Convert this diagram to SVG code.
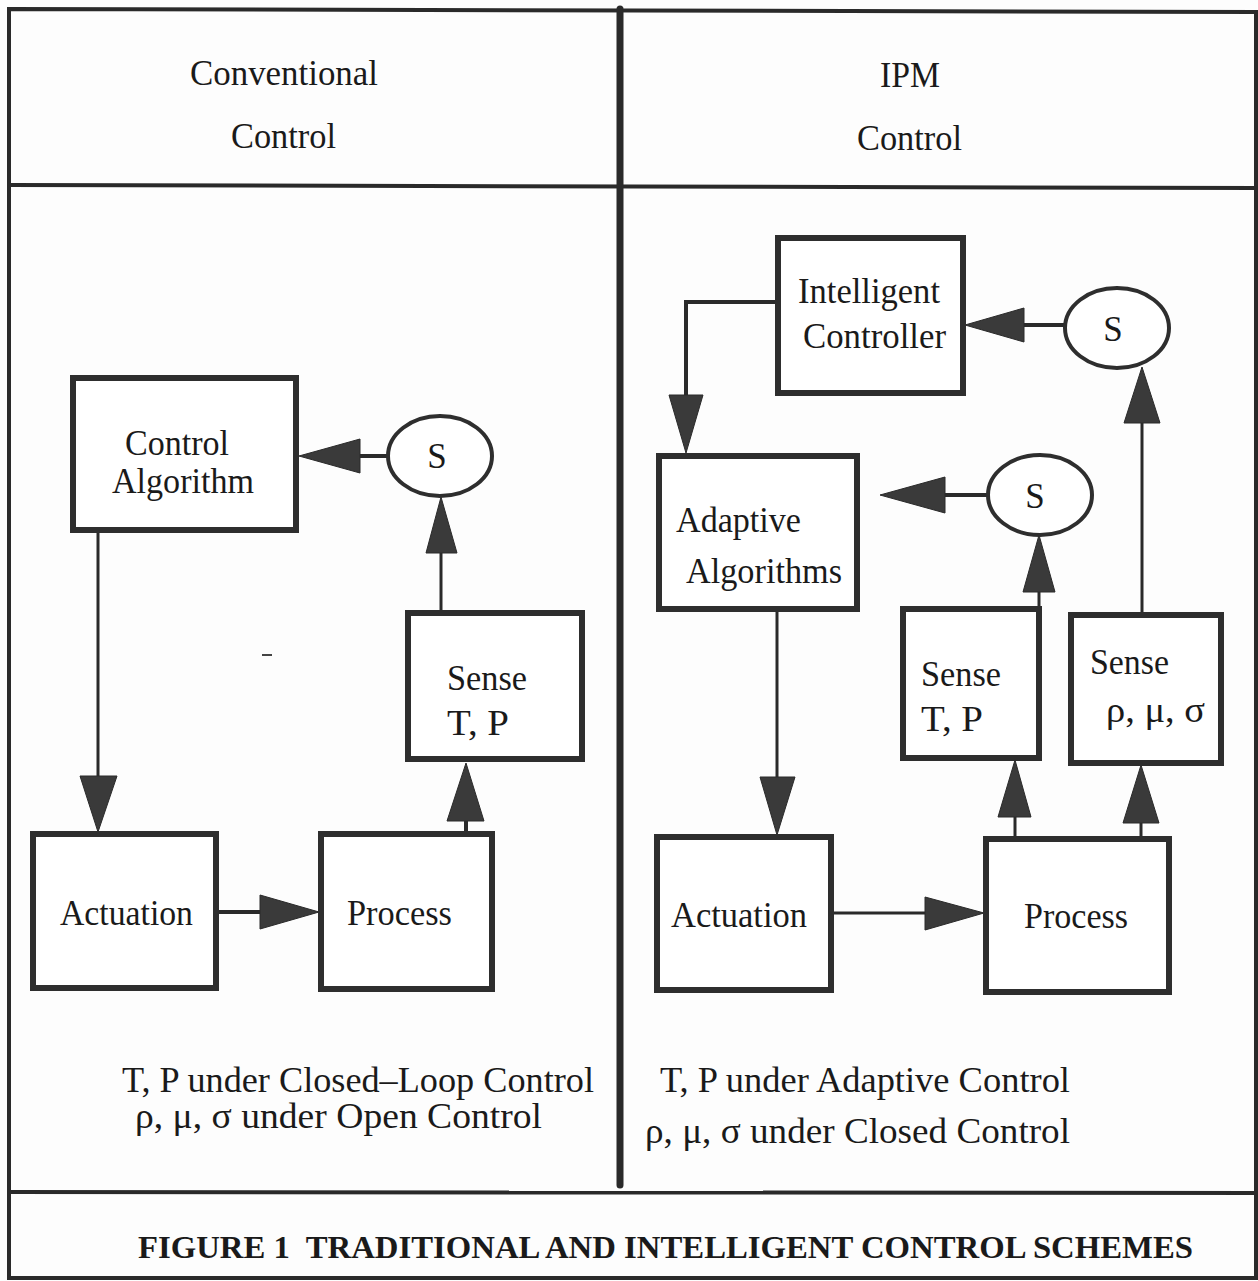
<svg xmlns="http://www.w3.org/2000/svg" width="1258" height="1281" viewBox="0 0 1258 1281">
<style>
.frame{fill:none;stroke:#2a2a2a;stroke-width:4}
.box{fill:#fff;stroke:#2e2e2e;stroke-width:6}
.ell{fill:#fff;stroke:#2e2e2e;stroke-width:4}
.ln{fill:none;stroke:#2a2a2a;stroke-width:3}
.lnt{fill:none;stroke:#2a2a2a;stroke-width:4}
.ah{fill:#3a3a3a;stroke:#2a2a2a;stroke-width:1}
text{font-family:"Liberation Serif","Times New Roman",serif;font-size:35px;fill:#1a1a1a}
.cap{font-weight:bold;font-size:31px}
</style>
<rect x="0" y="0" width="1258" height="1281" fill="#fdfdfd"/>
<g id="frame">
<path class="frame" d="M9,9 L1256,12 L1256,1278 L9,1278 Z"/>
<path class="frame" d="M9,185 L1256,188"/>
<path class="frame" d="M9,1192 L1256,1193"/>
<path d="M620,9 L620,1185" stroke="#2a2a2a" stroke-width="7" stroke-linecap="round" fill="none"/>
<line x1="262" y1="655" x2="272" y2="655" stroke="#444" stroke-width="2"/>
</g>
<g id="headers">
<text x="190" y="85" textLength="188" lengthAdjust="spacingAndGlyphs">Conventional</text>
<text x="231" y="148" textLength="105" lengthAdjust="spacingAndGlyphs">Control</text>
<text x="880" y="87" textLength="60" lengthAdjust="spacingAndGlyphs">IPM</text>
<text x="857" y="150" textLength="105" lengthAdjust="spacingAndGlyphs">Control</text>
</g>
<g id="connectors">
<line class="lnt" x1="360" y1="456" x2="388" y2="456"/>
<polygon class="ah" points="299,456 360,439 360,473"/>
<line class="ln" x1="441" y1="612" x2="441" y2="552"/>
<polygon class="ah" points="441,497 426,553 457,553"/>
<line class="ln" x1="98" y1="531" x2="98" y2="776"/>
<polygon class="ah" points="98,832 80,776 117,776"/>
<line class="lnt" x1="217" y1="912" x2="260" y2="912"/>
<polygon class="ah" points="319,912 260,895 260,929"/>
<line class="lnt" x1="466" y1="852" x2="466" y2="820"/>
<polygon class="ah" points="466,763 447,821 484,821"/>
<line class="lnt" x1="1024" y1="325" x2="1066" y2="325"/>
<polygon class="ah" points="965,325 1024,308 1024,342"/>
<polyline class="lnt" points="777,302 686,302 686,396"/>
<polygon class="ah" points="686,453 669,395 703,395"/>
<line class="lnt" x1="945" y1="495" x2="988" y2="495"/>
<polygon class="ah" points="880,495 945,477 945,513"/>
<line class="ln" x1="1039" y1="607" x2="1039" y2="591"/>
<polygon class="ah" points="1039,535 1023,592 1055,592"/>
<line class="ln" x1="1142" y1="613" x2="1142" y2="422"/>
<polygon class="ah" points="1142,367 1124,423 1160,423"/>
<line class="ln" x1="777" y1="610" x2="777" y2="778"/>
<polygon class="ah" points="777,835 760,777 795,777"/>
<line class="ln" x1="832" y1="913" x2="926" y2="913"/>
<polygon class="ah" points="984,913 925,897 925,930"/>
<line class="ln" x1="1015" y1="837" x2="1015" y2="816"/>
<polygon class="ah" points="1015,760 998,817 1031,817"/>
<line class="ln" x1="1141" y1="837" x2="1141" y2="822"/>
<polygon class="ah" points="1141,765 1123,823 1159,823"/>
</g>
<g id="control-algorithm">
<rect class="box" x="73" y="378" width="223" height="152"/>
<text x="125" y="455" textLength="104" lengthAdjust="spacingAndGlyphs">Control</text>
<text x="112" y="493" textLength="142" lengthAdjust="spacingAndGlyphs">Algorithm</text>
</g>
<g id="s-left">
<ellipse class="ell" cx="440" cy="456" rx="52" ry="40"/>
<text x="437" y="468" text-anchor="middle">S</text>
</g>
<g id="sense-tp-left">
<rect class="box" x="408" y="613" width="174" height="146"/>
<text x="447" y="690" textLength="80" lengthAdjust="spacingAndGlyphs">Sense</text>
<text x="447" y="735" textLength="62" lengthAdjust="spacingAndGlyphs">T, P</text>
</g>
<g id="actuation-left">
<rect class="box" x="33" y="834" width="183" height="154"/>
<text x="60" y="925" textLength="133" lengthAdjust="spacingAndGlyphs">Actuation</text>
</g>
<g id="process-left">
<rect class="box" x="321" y="834" width="171" height="155"/>
<text x="347" y="925" textLength="105" lengthAdjust="spacingAndGlyphs">Process</text>
</g>
<g id="notes-left">
<text x="122" y="1092" textLength="472" lengthAdjust="spacingAndGlyphs">T, P under Closed–Loop Control</text>
<text x="135" y="1128" textLength="407" lengthAdjust="spacingAndGlyphs">ρ, μ, σ under Open Control</text>
</g>
<g id="intelligent-controller">
<rect class="box" x="778" y="238" width="185" height="155"/>
<text x="798" y="303" textLength="142" lengthAdjust="spacingAndGlyphs">Intelligent</text>
<text x="803" y="348" textLength="143" lengthAdjust="spacingAndGlyphs">Controller</text>
</g>
<g id="s-top-right">
<ellipse class="ell" cx="1117" cy="328" rx="52" ry="40"/>
<text x="1113" y="341" text-anchor="middle">S</text>
</g>
<g id="adaptive-algorithms">
<rect class="box" x="659" y="456" width="198" height="153"/>
<text x="676" y="532" textLength="125" lengthAdjust="spacingAndGlyphs">Adaptive</text>
<text x="686" y="583" textLength="156" lengthAdjust="spacingAndGlyphs">Algorithms</text>
</g>
<g id="s-mid-right">
<ellipse class="ell" cx="1040" cy="495" rx="52" ry="40"/>
<text x="1035" y="508" text-anchor="middle">S</text>
</g>
<g id="sense-tp-right">
<rect class="box" x="903" y="609" width="136" height="149"/>
<text x="921" y="686" textLength="80" lengthAdjust="spacingAndGlyphs">Sense</text>
<text x="921" y="731" textLength="62" lengthAdjust="spacingAndGlyphs">T, P</text>
</g>
<g id="sense-rms-right">
<rect class="box" x="1071" y="615" width="150" height="148"/>
<text x="1090" y="674" textLength="79" lengthAdjust="spacingAndGlyphs">Sense</text>
<text x="1106" y="722" textLength="99" lengthAdjust="spacingAndGlyphs">ρ, μ, σ</text>
</g>
<g id="actuation-right">
<rect class="box" x="657" y="837" width="174" height="153"/>
<text x="671" y="927" textLength="136" lengthAdjust="spacingAndGlyphs">Actuation</text>
</g>
<g id="process-right">
<rect class="box" x="986" y="839" width="183" height="153"/>
<text x="1024" y="928" textLength="104" lengthAdjust="spacingAndGlyphs">Process</text>
</g>
<g id="notes-right">
<text x="660" y="1092" textLength="410" lengthAdjust="spacingAndGlyphs">T, P under Adaptive Control</text>
<text x="645" y="1143" textLength="425" lengthAdjust="spacingAndGlyphs">ρ, μ, σ under Closed Control</text>
</g>
<g id="caption">
<text class="cap" x="138" y="1258" textLength="1055" lengthAdjust="spacingAndGlyphs" xml:space="preserve">FIGURE 1  TRADITIONAL AND INTELLIGENT CONTROL SCHEMES</text>
</g>
</svg>
